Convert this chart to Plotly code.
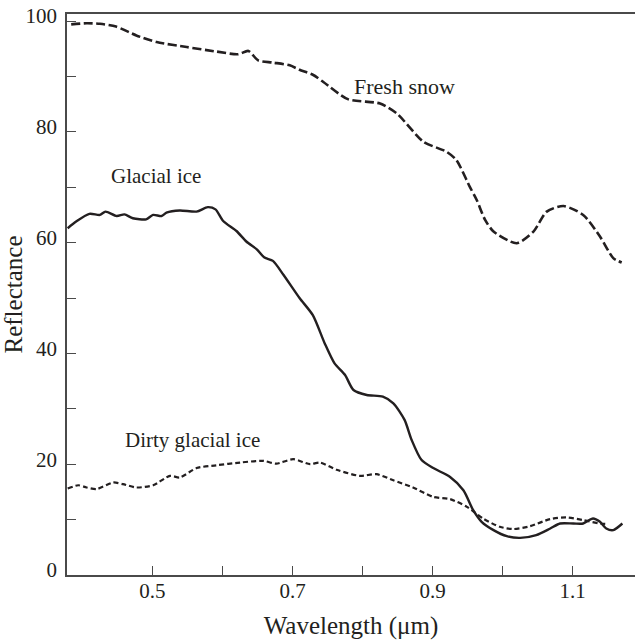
import plotly.graph_objects as go

# Spectral reflectance curves (wavelength in micrometres, reflectance in %)
snow_wl = [0.384, 0.406, 0.425, 0.448, 0.477, 0.506, 0.549, 0.591, 0.622, 0.637,
           0.651, 0.672, 0.696, 0.710, 0.729, 0.744, 0.779, 0.825, 0.849, 0.887,
           0.920, 0.934, 0.953, 0.963, 0.975, 0.987, 1.020, 1.044, 1.063, 1.087,
           1.115, 1.139, 1.158, 1.170]
snow_refl = [99.4, 99.6, 99.5, 99.0, 97.4, 96.2, 95.3, 94.5, 94.0, 94.6,
             92.9, 92.5, 92.0, 91.2, 90.3, 89.0, 85.9, 85.1, 83.3, 78.2,
             76.4, 74.9, 70.1, 67.7, 64.1, 62.0, 59.9, 62.0, 65.6, 66.6,
             65.0, 61.1, 57.2, 56.4]

ice_wl = [0.379, 0.391, 0.410, 0.425, 0.433, 0.449, 0.460, 0.472, 0.491, 0.501,
          0.513, 0.520, 0.539, 0.563, 0.579, 0.590, 0.601, 0.620, 0.634, 0.649,
          0.660, 0.672, 0.687, 0.710, 0.729, 0.746, 0.760, 0.775, 0.787, 0.806,
          0.829, 0.844, 0.860, 0.870, 0.884, 0.901, 0.925, 0.944, 0.958, 0.970,
          0.987, 1.006, 1.025, 1.048, 1.068, 1.082, 1.101, 1.115, 1.129, 1.139,
          1.148, 1.158, 1.171]
ice_refl = [62.6, 63.8, 65.2, 65.0, 65.6, 64.8, 65.1, 64.4, 64.2, 65.0,
            64.8, 65.4, 65.8, 65.6, 66.4, 66.0, 63.9, 62.1, 60.2, 58.8,
            57.3, 56.7, 54.2, 50.0, 46.9, 41.8, 38.2, 36.1, 33.4, 32.5,
            32.2, 31.0, 28.0, 24.4, 20.8, 19.3, 17.7, 15.3, 11.7, 9.6,
            8.1, 7.0, 6.7, 7.2, 8.4, 9.3, 9.3, 9.3, 10.2, 9.6,
            8.4, 8.1, 9.3]

dirty_wl = [0.379, 0.394, 0.406, 0.420, 0.444, 0.458, 0.477, 0.501, 0.525, 0.539,
            0.563, 0.591, 0.625, 0.658, 0.677, 0.701, 0.725, 0.739, 0.763, 0.796,
            0.820, 0.844, 0.872, 0.901, 0.925, 0.949, 0.972, 0.996, 1.015, 1.039,
            1.068, 1.091, 1.115, 1.139, 1.148]
dirty_refl = [15.6, 16.2, 15.8, 15.5, 16.7, 16.4, 15.8, 16.2, 17.9, 17.6,
              19.3, 19.8, 20.3, 20.6, 20.1, 20.9, 20.0, 20.3, 19.0, 17.9,
              18.2, 17.1, 15.8, 14.1, 13.7, 12.3, 10.2, 8.7, 8.3, 8.8,
              10.1, 10.4, 9.9, 9.3, 9.2]

x_ticks = [0.5, 0.6, 0.7, 0.8, 0.9, 1.0, 1.1]
x_tick_text = ["0.5", "", "0.7", "", "0.9", "", "1.1"]
y_ticks = [0, 10, 20, 30, 40, 50, 60, 70, 80, 90, 100]
y_tick_text = ["0", "", "20", "", "40", "", "60", "", "80", "", "100"]

INK = "#231f20"
AXIS = "#4a4a4a"
FONT = "Liberation Serif"

fig = go.Figure()
fig.add_trace(go.Scatter(x=snow_wl, y=snow_refl, mode="lines", name="Fresh snow",
                         line=dict(color=INK, width=2.6, dash="9px,3.5px",
                                   shape="spline", smoothing=0.7)))
fig.add_trace(go.Scatter(x=ice_wl, y=ice_refl, mode="lines", name="Glacial ice",
                         line=dict(color=INK, width=2.4, shape="spline", smoothing=0.7)))
fig.add_trace(go.Scatter(x=dirty_wl, y=dirty_refl, mode="lines", name="Dirty glacial ice",
                         line=dict(color=INK, width=2.2, dash="5px,3px",
                                   shape="spline", smoothing=0.7)))

labels = [("Fresh snow", 0.860, 88.2, 22), ("Glacial ice", 0.505, 72.0, 21),
          ("Dirty glacial ice", 0.557, 24.3, 21)]
for text, lx, ly, size in labels:
    fig.add_annotation(x=lx, y=ly, text=text, showarrow=False,
                       xanchor="center", yanchor="middle",
                       font=dict(family=FONT, size=size, color=INK))

fig.update_layout(
    width=635, height=640,
    margin=dict(l=67, r=0, t=14, b=65),
    paper_bgcolor="white", plot_bgcolor="white",
    showlegend=False,
    font=dict(family=FONT, size=21, color=INK),
)
fig.update_xaxes(
    range=[0.378, 1.189], tickvals=x_ticks, ticktext=x_tick_text,
    ticks="inside", ticklen=9, tickwidth=1.3, tickcolor=AXIS,
    showline=True, linecolor=AXIS, linewidth=1.6, mirror=True,
    showgrid=False, zeroline=False, ticklabelstandoff=-4,
    title=dict(text="Wavelength (μm)", standoff=14),
)
fig.update_yaxes(
    range=[0, 101.27], tickvals=y_ticks, ticktext=y_tick_text,
    ticks="inside", ticklen=9, tickwidth=1.3, tickcolor=AXIS,
    showline=True, linecolor=AXIS, linewidth=1.6,
    showgrid=False, zeroline=False, ticklabelstandoff=4, ticklabelshift=-5,
    title=dict(text="Reflectance", standoff=8),
)

fig.write_html("out.html")
